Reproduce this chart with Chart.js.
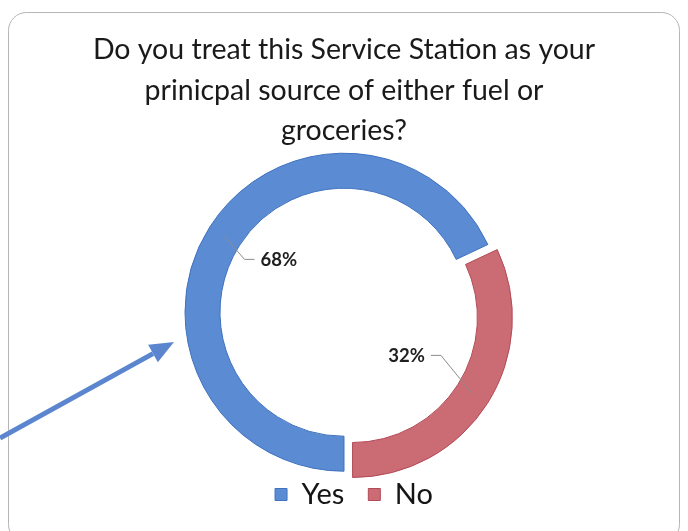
<!DOCTYPE html>
<html>
<head>
<meta charset="utf-8">
<title>Principal source survey</title>
<script src="https://cdn.jsdelivr.net/npm/chart.js@4.4.1/dist/chart.umd.min.js"></script>
<style>
  html, body { margin: 0; padding: 0; background: #fff; }
  #wrap { width: 688px; height: 531px; }
</style>
</head>
<body>
<div id="wrap"><canvas id="chart" width="688" height="531"></canvas></div>
<script>
// --- data ---
const titleLines = ['Do you treat this Service Station as your', 'prinicpal source of either fuel or', 'groceries?'];
const answers = ['Yes', 'No'];
const shares = [68, 32];
const sliceColors = ['#5b8bd2', '#cb6b74'];
const sliceBorders = ['#3f72c0', '#b24a57'];

const FONT = 'Lato, "Open Sans", sans-serif';

// white page + rounded frame round the chart
const framePlugin = {
    id: 'frame',
    beforeDraw(chart) {
        const ctx = chart.ctx;
        ctx.save();
        ctx.fillStyle = '#fff';
        ctx.fillRect(0, 0, chart.width, chart.height);
        ctx.strokeStyle = '#b5b5b5';
        ctx.lineWidth = 1;
        ctx.beginPath();
        ctx.roundRect(8.5, 12.5, 671, 530, 18);
        ctx.stroke();
        ctx.restore();
    }
};

// nudge the legend a little right of the doughnut's centre line
const legendShift = {
    id: 'legendShift',
    afterLayout(chart, args, opts) {
        const lg = chart.legend;
        if (!lg) return;
        lg.left += opts.dx;
        lg.right += opts.dx;
    }
};

// percentage labels with elbow leader lines, placed inside the ring
const leaderLabels = {
    id: 'leaderLabels',
    afterDatasetsDraw(chart, args, opts) {
        const ctx = chart.ctx;
        const meta = chart.getDatasetMeta(0);
        const ds = chart.data.datasets[0];
        const total = ds.data.reduce((a, b) => a + b, 0);

        meta.data.forEach((arc, i) => {
            const p = arc.getProps(['x', 'y', 'startAngle', 'endAngle', 'innerRadius', 'outerRadius'], true);
            const mid = (p.startAngle + p.endAngle) / 2;
            // arc elements shift by a quarter of their offset option
            const off = ((ds.offset && ds.offset[i]) || 0) / 4;
            const cx = p.x + Math.cos(mid) * off;
            const cy = p.y + Math.sin(mid) * off;
            const rMid = (p.innerRadius + p.outerRadius) / 2;
            const ax = cx + Math.cos(mid) * rMid;
            const ay = cy + Math.sin(mid) * rMid;
            const side = Math.cos(mid) < 0 ? 1 : -1;   // direction towards the centre
            const bend = opts.bends[i];
            const ex = ax + side * bend[0];
            const ey = ay + bend[1];
            const hx = ex + side * 10;

            ctx.save();
            ctx.strokeStyle = '#8c8c8c';
            ctx.lineWidth = 1;
            ctx.beginPath();
            ctx.moveTo(ax, ay);
            ctx.lineTo(ex, ey);
            ctx.lineTo(hx, ey);
            ctx.stroke();

            ctx.fillStyle = '#1f1f1f';
            ctx.font = 'bold 18.5px ' + FONT;
            ctx.textBaseline = 'middle';
            ctx.textAlign = side > 0 ? 'left' : 'right';
            const pct = Math.round(ds.data[i] / total * 100) + '%';
            ctx.fillText(pct, hx + side * 6, ey + 1);
            ctx.restore();
        });
    }
};

// blue pointer arrow coming in from the left edge
const arrowPlugin = {
    id: 'arrow',
    afterDraw(chart) {
        const ctx = chart.ctx;
        const x0 = 0, y0 = 438, x1 = 174, y1 = 342;
        const ang = Math.atan2(y1 - y0, x1 - x0);
        const head = 24, half = 10;
        const bx = x1 - Math.cos(ang) * head;
        const by = y1 - Math.sin(ang) * head;
        ctx.save();
        ctx.strokeStyle = '#5b86cf';
        ctx.fillStyle = '#5b86cf';
        ctx.lineWidth = 5;
        ctx.beginPath();
        ctx.moveTo(x0, y0);
        ctx.lineTo(bx, by);
        ctx.stroke();
        ctx.beginPath();
        ctx.moveTo(x1, y1);
        ctx.lineTo(bx + Math.sin(ang) * half, by - Math.cos(ang) * half);
        ctx.lineTo(bx - Math.sin(ang) * half, by + Math.cos(ang) * half);
        ctx.closePath();
        ctx.fill();
        ctx.restore();
    }
};

new Chart(document.getElementById('chart'), {
    type: 'doughnut',
    data: {
        labels: answers,
        datasets: [{
            data: shares,
            backgroundColor: sliceColors,
            borderColor: sliceBorders,
            borderWidth: 1,
            offset: [0, 40]
        }]
    },
    options: {
        responsive: false,
        animation: false,
        rotation: 180,
        radius: 159,
        cutout: '78%',
        layout: { padding: { top: 0, bottom: 12, left: 0, right: 0 } },
        plugins: {
            title: {
                display: true,
                text: titleLines,
                color: '#1a1a1a',
                font: { family: FONT, size: 28.5, weight: 'normal', lineHeight: 1.42 },
                padding: { top: 30, bottom: 17 }
            },
            legend: {
                position: 'bottom',
                labels: {
                    color: '#151515',
                    font: { family: FONT, size: 29 },
                    boxWidth: 12,
                    boxHeight: 12,
                    padding: 24
                }
            },
            tooltip: { enabled: false },
            legendShift: { dx: 10 },
            leaderLabels: { bends: [[20, 23], [31, -38]] }
        }
    },
    plugins: [framePlugin, legendShift, leaderLabels, arrowPlugin]
});
</script>
</body>
</html>
